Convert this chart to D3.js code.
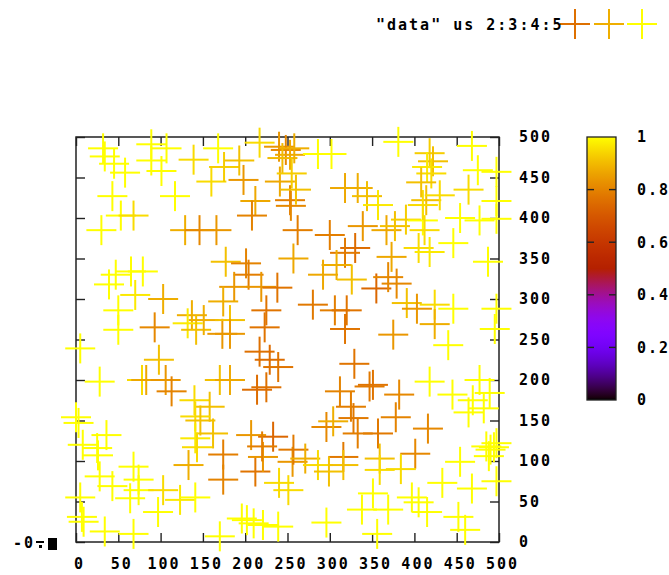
<!DOCTYPE html>
<html><head><meta charset="utf-8">
<script src="https://cdn.jsdelivr.net/npm/d3@7"></script>
<style>
body{margin:0;background:#fff;}
text{font-family:"DejaVu Sans Mono",monospace;font-weight:bold;font-size:15px;letter-spacing:2px;fill:#000;}
</style></head><body>
<svg id="c" width="669" height="575"></svg>
<script>
// ---- data ----
const keyLabel = '"data" us 2:3:4:5';
const xTicks = [0,50,100,150,200,250,300,350,400,450,500];
const yTicks = [0,50,100,150,200,250,300,350,400,450,500];
const cbTicks = [0,0.2,0.4,0.6,0.8,1];
const cbTickLabels = ["0","0.2","0.4","0.6","0.8","1"];
const keyValues = [0.76,0.88,1.0];
const xs = [32,34,45,58,89,107,89,101,139,168,160,175,193,198,217,43,53,68,30,117,129,146,166,212,208,253,241,254,262,257,177,201,204,187,219,238,174,225,39,47,65,79,70,103,50,137,
240,248,253,244,258,
286,302,255,260,318,333,344,357,339,367,377,390,410,412,414,410,418,422,415,420,408,430,381,468,475,497,464,497,454,477,497,446,405,418,487,300,330,318,373,292,308,326,355,369,379,280,306,320,391,403,424,446,497,
50,5,93,132,142,151,173,182,182,223,217,229,239,214,225,98,78,83,106,113,28,170,182,140,158,141,147,162,141,143,133,174,174,0,3,36,8,25,26,5,7,9,34,68,74,68,43,28,64,74,97,103,123,141,196,202,210,221,239,170,251,212,221,233,207,220,240,256,257,
318,375,440,424,495,329,347,351,312,325,382,328,378,357,333,296,304,416,418,445,477,469,482,464,489,485,490,494,497,488,271,286,316,316,299,359,359,401,384,454,433,468,497,351,338,369,397,405,415,452,460,296,356];
const ys = [486,476,467,456,491,486,471,458,472,486,445,463,471,447,493,427,403,403,385,427,385,385,385,421,403,422,445,415,385,350,346,344,330,315,315,314,297,286,318,330,334,334,305,300,286,280,
488,484,478,474,486,
479,479,455,435,437,437,427,416,390,385,390,398,397,385,422,416,480,470,463,455,444,428,494,489,459,457,435,421,400,397,399,369,363,358,346,379,363,357,352,330,342,324,313,327,319,293,286,286,295,288,293,288,288,
262,239,265,270,262,274,257,274,257,265,235,225,216,188,191,225,200,200,200,186,198,200,200,175,167,155,150,134,128,117,95,108,77,154,147,132,120,116,107,55,31,25,13,10,77,93,69,81,54,64,37,64,52,55,29,27,23,21,19,7,64,87,105,130,132,118,73,99,114,
263,256,243,269,263,220,192,194,186,167,182,153,154,134,134,142,149,140,198,182,200,175,165,160,184,118,114,117,122,106,103,95,105,95,87,103,89,109,90,99,73,66,75,60,40,40,55,49,37,31,15,24,10];
const cs = [1,1,1,1,1,1,1,1,0.95,1,0.95,0.93,0.91,0.84,0.95,1,1,0.95,1,1,0.88,0.81,0.84,0.87,0.8,0.79,0.87,0.81,0.79,0.87,0.91,0.8,0.79,0.84,0.84,0.77,0.88,0.77,1,1,1,1,0.97,0.88,1,0.88,
0.84,0.81,0.87,0.9,0.88,
1,1,0.93,0.91,0.87,0.88,0.91,0.97,0.84,0.87,0.91,0.93,1,0.95,0.91,0.95,0.93,0.91,0.97,0.95,0.91,0.95,1,1,1,1,0.95,1,1,1,1,1,0.95,0.97,1,0.79,0.75,0.78,0.87,0.87,0.88,0.91,0.74,0.81,0.81,0.78,0.79,0.77,0.91,0.84,0.95,1,1,
1,1,0.81,0.97,0.91,0.88,0.84,0.91,0.84,0.77,0.76,0.75,0.77,0.75,0.76,0.91,0.95,0.87,0.84,0.8,1,0.91,0.87,0.95,0.91,0.95,0.91,0.91,0.97,0.95,0.88,0.79,0.8,1,1,1,1,1,1,1,1,1,1,1,1,1,1,1,1,1,1,0.95,0.97,1,1,1,1,1,1,1,0.95,0.77,0.84,0.74,0.84,0.79,0.95,0.84,0.78,
0.77,0.84,1,0.88,1,0.77,0.78,0.77,0.8,0.79,0.81,0.78,0.8,0.78,0.79,0.81,0.88,0.81,1,1,1,1,1,1,1,1,1,1,1,1,0.88,0.95,0.78,0.91,0.91,0.91,0.95,0.81,0.95,1,1,1,1,1,1,1,1,1,1,1,1,1,1];

// ---- palette (gnuplot rgbformulae 7,5,15) ----
function pal(v){
  const cl = t => Math.max(0, Math.min(1, t));
  const r = cl(Math.sqrt(v)), g = cl(v*v*v), b = cl(Math.sin(2*Math.PI*v));
  return d3.rgb(r*255, g*255, b*255).formatHex();
}

const svg = d3.select("#c");
const x = d3.scaleLinear().domain([0,500]).range([76,499]);
const y = d3.scaleLinear().domain([0,500]).range([542,137]);
const CH = 11; // char advance
const txtW = s => s.length*CH - 2;

// axes (inward ticks)
const tk = 9;
svg.append("g").attr("transform","translate(3,542)")
  .call(d3.axisBottom(x).tickValues(xTicks).tickSize(-tk).tickSizeOuter(0).tickPadding(16).tickFormat(d3.format("d")))
  .selectAll(".tick line").attr("transform","translate(-3,0)");
svg.append("g").attr("transform","translate(0,137)")
  .call(d3.axisTop(x).tickValues(xTicks).tickSize(-tk).tickSizeOuter(0).tickFormat(""));
svg.append("g").attr("transform","translate(76,0)")
  .call(d3.axisLeft(y).tickValues(yTicks).tickSize(-tk).tickSizeOuter(0).tickFormat(""));
svg.append("g").attr("transform","translate(499,0)")
  .call(d3.axisRight(y).tickValues(yTicks).tickSize(-tk).tickSizeOuter(0).tickPadding(20).tickFormat(d3.format("d")));
svg.selectAll(".domain").remove();
svg.selectAll(".tick line").attr("stroke","#222").attr("stroke-width",1.4);
svg.selectAll(".tick text").attr("font-family",null).attr("font-size",null).style("font-family",'"DejaVu Sans Mono",monospace').style("font-size","15px").style("font-weight","bold");

// frame
svg.append("rect").attr("x",76).attr("y",137).attr("width",423).attr("height",405)
  .attr("fill","none").attr("stroke","#222").attr("stroke-width",1.5);

// crosses
const hs = 15;
const g = svg.append("g").attr("stroke-width",2).attr("fill","none");
xs.forEach((xv,i)=>{
  const cx = x(xv), cy = y(ys[i]), col = pal(cs[i]);
  g.append("line").attr("x1",cx-hs).attr("x2",cx+hs).attr("y1",cy).attr("y2",cy).attr("stroke",col);
  g.append("line").attr("x1",cx).attr("x2",cx).attr("y1",cy-hs).attr("y2",cy+hs).attr("stroke",col);
});

// "-0:" oddity at bottom left
svg.append("text").attr("x",13).attr("y",548).text("-0");
svg.append("rect").attr("x",36).attr("y",541).attr("width",8).attr("height",2).attr("fill","#000");
svg.append("rect").attr("x",39).attr("y",545).attr("width",3).attr("height",3).attr("fill","#000");
svg.append("rect").attr("x",48).attr("y",538).attr("width",9).attr("height",12).attr("fill","#000");

// key
svg.append("text").attr("x",561-txtW(keyLabel)).attr("y",30).text(keyLabel);
const keyX = [575,609,642];
keyValues.forEach((v,i)=>{
  const col = pal(v);
  g.append("line").attr("x1",keyX[i]-hs).attr("x2",keyX[i]+hs).attr("y1",24).attr("y2",24).attr("stroke",col);
  g.append("line").attr("x1",keyX[i]).attr("x2",keyX[i]).attr("y1",24-hs).attr("y2",24+hs).attr("stroke",col);
});

// colorbar
const cb = d3.scaleLinear().domain([0,1]).range([400,137]);
const grad = svg.append("defs").append("linearGradient").attr("id","pg")
  .attr("x1",0).attr("y1",1).attr("x2",0).attr("y2",0);
d3.range(0,1.0001,0.01).forEach(t=>grad.append("stop").attr("offset",t).attr("stop-color",pal(t)));
svg.append("rect").attr("x",587).attr("y",137).attr("width",29).attr("height",263).attr("fill","url(#pg)");
svg.append("rect").attr("x",587).attr("y",137).attr("width",29).attr("height",263)
  .attr("fill","none").attr("stroke","#222").attr("stroke-width",1.3);
cbTicks.forEach((t,i)=>{
  if(t>0 && t<1){
    svg.append("line").attr("x1",587).attr("x2",594).attr("y1",cb(t)).attr("y2",cb(t)).attr("stroke","#222").attr("stroke-width",1.4);
    svg.append("line").attr("x1",609).attr("x2",616).attr("y1",cb(t)).attr("y2",cb(t)).attr("stroke","#222").attr("stroke-width",1.4);
  }
  svg.append("text").attr("x",637).attr("y",cb(t)).attr("dy","0.36em").text(cbTickLabels[i]);
});
</script>
</body></html>
